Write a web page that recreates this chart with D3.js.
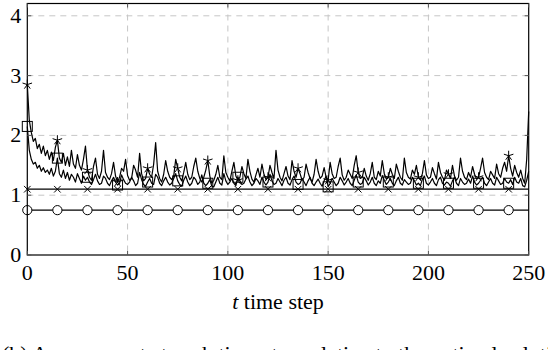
<!DOCTYPE html>
<html>
<head>
<meta charset="utf-8">
<script src="https://cdn.jsdelivr.net/npm/d3@7"></script>
<style>
  body { margin: 0; background: #fff; }
  svg { display: block; }
</style>
</head>
<body>
<div id="vis"></div>
<script>
/* Datos */

const xTicks = [0, 50, 100, 150, 200, 250];
const yTicks = [0, 1, 2, 3, 4];
const markEvery = 15;

// serie constante con círculos
const circleLevel = 0.75;
// serie constante con cruces
const crossLevel = 1.1;

// serie ruidosa con estrellas (t = 0..250)
const starValues = [
  2.85, 2.25, 2.05, 1.9, 1.95, 1.78, 1.85, 1.7, 1.82, 1.66,
  1.75, 1.6, 1.72, 1.58, 1.8, 1.92, 1.62, 1.55, 1.7, 1.5,
  1.64, 1.48, 1.75, 1.52, 1.45, 1.68, 1.5, 1.42, 1.6, 1.82,
  1.42, 1.3, 1.25, 1.48, 1.62, 1.35, 1.28, 1.4, 1.75, 1.38,
  1.3, 1.26, 1.36, 1.55, 1.32, 1.22, 1.3, 1.45, 1.4, 1.6,
  1.33, 1.25, 1.28, 1.5, 1.42, 1.3, 1.7, 1.36, 1.24, 1.28,
  1.45, 1.35, 1.3, 1.52, 1.88, 1.4, 1.28, 1.22, 1.35, 1.58,
  1.4, 1.3, 1.26, 1.32, 1.6, 1.45, 1.3, 1.24, 1.38, 1.55,
  1.35, 1.26, 1.3, 1.48, 1.62, 1.4, 1.28, 1.22, 1.3, 1.42,
  1.58, 1.32, 1.2, 1.25, 1.35, 1.5, 1.3, 1.26, 1.66, 1.38,
  1.3, 1.24, 1.4, 1.55, 1.32, 1.25, 1.3, 1.48, 1.36, 1.28,
  1.6, 1.4, 1.27, 1.22, 1.34, 1.45, 1.3, 1.52, 1.35, 1.26,
  1.3, 1.5, 1.38, 1.28, 1.75, 1.42, 1.3, 1.24, 1.36, 1.48,
  1.32, 1.26, 1.58, 1.4, 1.3, 1.45, 1.36, 1.25, 1.3, 1.52,
  1.38, 1.28, 1.22, 1.35, 1.6, 1.4, 1.28, 1.32, 1.46, 1.3,
  1.25, 1.55, 1.36, 1.28, 1.3, 1.48, 1.62, 1.34, 1.25, 1.3,
  1.42, 1.35, 1.28, 1.5, 1.66, 1.38, 1.28, 1.3, 1.45, 1.32,
  1.25, 1.36, 1.55, 1.3, 1.26, 1.4, 1.32, 1.58, 1.36, 1.27,
  1.3, 1.45, 1.35, 1.28, 1.52, 1.4, 1.3, 1.25, 1.62, 1.38,
  1.3, 1.27, 1.42, 1.35, 1.5, 1.3, 1.26, 1.36, 1.58, 1.34,
  1.28, 1.3, 1.46, 1.36, 1.27, 1.55, 1.38, 1.3, 1.25, 1.42,
  1.35, 1.28, 1.5, 1.32, 1.25, 1.3, 1.62, 1.4, 1.3, 1.26,
  1.38, 1.3, 1.48, 1.35, 1.27, 1.3, 1.45, 1.62, 1.38, 1.3,
  1.26, 1.4, 1.34, 1.28, 1.52, 1.36, 1.3, 1.45, 1.55, 1.4,
  1.66, 1.45, 1.32, 1.5, 1.38, 1.3, 1.42, 1.28, 1.2, 1.6,
  2.4
];

// serie ruidosa con cuadrados (t = 0..250)
const squareValues = [
  2.15, 1.75, 1.6, 1.52, 1.55, 1.45, 1.5, 1.4, 1.46, 1.38,
  1.42, 1.35, 1.45, 1.32, 1.4, 1.62, 1.36, 1.3, 1.42, 1.28,
  1.38, 1.25, 1.35, 1.3, 1.22, 1.36, 1.28, 1.2, 1.32, 1.25,
  1.3, 1.22, 1.18, 1.26, 1.35, 1.24, 1.18, 1.2, 1.32, 1.28,
  1.2, 1.16, 1.24, 1.3, 1.22, 1.17, 1.2, 1.34, 1.26, 1.2,
  1.18, 1.22, 1.3, 1.24, 1.16, 1.2, 1.38, 1.26, 1.18, 1.15,
  1.22, 1.28, 1.2, 1.18, 1.35, 1.3, 1.2, 1.16, 1.24, 1.3,
  1.22, 1.17, 1.2, 1.28, 1.36, 1.24, 1.18, 1.15, 1.25, 1.32,
  1.22, 1.16, 1.2, 1.3, 1.26, 1.18, 1.22, 1.34, 1.2, 1.16,
  1.2, 1.26, 1.15, 1.14, 1.22, 1.3, 1.2, 1.17, 1.36, 1.24,
  1.18, 1.22, 1.28, 1.2, 1.16, 1.3, 1.24, 1.18, 1.2, 1.27,
  1.32, 1.22, 1.16, 1.2, 1.28, 1.24, 1.18, 1.3, 1.22, 1.17,
  1.22, 1.35, 1.24, 1.18, 1.2, 1.28, 1.22, 1.16, 1.25, 1.3,
  1.2, 1.17, 1.26, 1.32, 1.22, 1.18, 1.2, 1.28, 1.22, 1.16,
  1.24, 1.3, 1.2, 1.16, 1.22, 1.27, 1.2, 1.15, 1.24, 1.32,
  1.14, 1.2, 1.28, 1.22, 1.16, 1.2, 1.3, 1.24, 1.17, 1.22,
  1.28, 1.2, 1.16, 1.25, 1.34, 1.22, 1.18, 1.2, 1.3, 1.24,
  1.17, 1.22, 1.3, 1.2, 1.16, 1.24, 1.2, 1.33, 1.25, 1.18,
  1.22, 1.28, 1.2, 1.16, 1.24, 1.3, 1.2, 1.17, 1.26, 1.22,
  1.18, 1.2, 1.3, 1.24, 1.17, 1.2, 1.16, 1.27, 1.32, 1.2,
  1.17, 1.22, 1.28, 1.2, 1.16, 1.26, 1.3, 1.2, 1.17, 1.22,
  1.2, 1.15, 1.24, 1.3, 1.2, 1.16, 1.28, 1.22, 1.18, 1.2,
  1.27, 1.2, 1.32, 1.22, 1.17, 1.2, 1.25, 1.3, 1.2, 1.16,
  1.22, 1.28, 1.2, 1.17, 1.3, 1.24, 1.18, 1.2, 1.28, 1.22,
  1.2, 1.26, 1.18, 1.3, 1.22, 1.2, 1.28, 1.16, 1.14, 1.25,
  1.4
];

const xLabel = "time step";
const caption = "(b)  Average  cost  at  each  time  step  relative  to  the  optimal  solution  li";

/* Tamaños */

const WIDTH = 548;
const HEIGHT = 350;
const plot = { left: 27.3, right: 528.7, top: 3.5, bottom: 255 };
const FONT = "'Liberation Serif', 'DejaVu Serif', 'Times New Roman', serif";

const svg = d3.select("#vis")
  .append("svg")
  .attr("width", WIDTH)
  .attr("height", HEIGHT)
  .attr("font-family", FONT);

/* Escalas */

const x = d3.scaleLinear().domain([0, 250]).range([plot.left, plot.right]);
const y = d3.scaleLinear().domain([0, 4.2]).range([plot.bottom, plot.bottom - 4.2 * 59.8]);

/* Grilla */

const grid = svg.append("g").attr("class", "grid");
grid.selectAll("line.vx")
  .data(xTicks.filter(d => d > 0 && d < 250))
  .enter().append("line")
  .attr("x1", d => x(d)).attr("x2", d => x(d))
  .attr("y1", plot.top).attr("y2", plot.bottom)
  .attr("stroke", "#c6c6c6").attr("stroke-width", 1)
  .attr("stroke-dasharray", "6,5");
grid.selectAll("line.hy")
  .data(yTicks.filter(d => d > 0))
  .enter().append("line")
  .attr("x1", plot.left).attr("x2", plot.right)
  .attr("y1", d => y(d)).attr("y2", d => y(d))
  .attr("stroke", "#c6c6c6").attr("stroke-width", 1)
  .attr("stroke-dasharray", "6,5");

/* Series */

const tAll = d3.range(starValues.length);
const line = d3.line().x(d => x(d[0])).y(d => y(d[1]));
const lines = svg.append("g").attr("fill", "none").attr("stroke", "#000").attr("stroke-width", 1.2);

const circleSeries = tAll.map(t => [t, circleLevel]);
const crossSeries = tAll.map(t => [t, crossLevel]);
const starSeries = tAll.map(t => [t, starValues[t]]);
const squareSeries = tAll.map(t => [t, squareValues[t]]);

[circleSeries, crossSeries, squareSeries, starSeries].forEach(s => {
  lines.append("path").attr("d", line(s)).attr("stroke-linejoin", "round");
});

const markT = d3.range(0, 251, markEvery);
const marks = svg.append("g").attr("stroke", "#000").attr("stroke-width", 1);

// círculos
marks.selectAll("circle")
  .data(markT)
  .enter().append("circle")
  .attr("cx", t => x(t)).attr("cy", y(circleLevel))
  .attr("r", 4.6)
  .attr("fill", "#fff");

// cruces
marks.selectAll("path.cross")
  .data(markT)
  .enter().append("path")
  .attr("class", "cross")
  .attr("transform", t => `translate(${x(t)},${y(crossLevel)})`)
  .attr("d", "M-3.3,-3.3L3.3,3.3M-3.3,3.3L3.3,-3.3")
  .attr("fill", "none");

// cuadrados
marks.selectAll("rect")
  .data(markT)
  .enter().append("rect")
  .attr("x", t => x(t) - 5).attr("y", t => y(squareValues[t]) - 5)
  .attr("width", 10).attr("height", 10)
  .attr("fill", "none");

// estrellas (asterisco de 5 puntas)
const starPath = d3.range(5).map(k => {
  const a = -Math.PI / 2 + k * 2 * Math.PI / 5;
  return `M0,0L${(5 * Math.cos(a)).toFixed(2)},${(5 * Math.sin(a)).toFixed(2)}`;
}).join("");
marks.selectAll("path.star")
  .data(markT)
  .enter().append("path")
  .attr("class", "star")
  .attr("transform", t => `translate(${x(t)},${y(starValues[t])})`)
  .attr("d", starPath)
  .attr("fill", "none");

/* Ejes */

const axes = svg.append("g");
axes.append("rect")
  .attr("x", plot.left).attr("y", plot.top)
  .attr("width", plot.right - plot.left).attr("height", plot.bottom - plot.top)
  .attr("fill", "none").attr("stroke", "#000").attr("stroke-width", 1.2);

// marcas de los ejes (hacia adentro, arriba y abajo / izquierda y derecha)
axes.selectAll("line.tx")
  .data(xTicks)
  .enter().append("g")
  .each(function (d) {
    const g = d3.select(this);
    g.append("line").attr("x1", x(d)).attr("x2", x(d)).attr("y1", plot.bottom).attr("y2", plot.bottom - 4).attr("stroke", "#555");
    g.append("line").attr("x1", x(d)).attr("x2", x(d)).attr("y1", plot.top).attr("y2", plot.top + 4).attr("stroke", "#555");
  });
axes.selectAll("line.ty")
  .data(yTicks)
  .enter().append("g")
  .each(function (d) {
    const g = d3.select(this);
    g.append("line").attr("x1", plot.left).attr("x2", plot.left + 4).attr("y1", y(d)).attr("y2", y(d)).attr("stroke", "#555");
    g.append("line").attr("x1", plot.right).attr("x2", plot.right - 4).attr("y1", y(d)).attr("y2", y(d)).attr("stroke", "#555");
  });

axes.selectAll("text.xt")
  .data(xTicks)
  .enter().append("text")
  .attr("x", d => x(d)).attr("y", 280)
  .attr("text-anchor", "middle")
  .attr("font-size", 22)
  .text(d => d);

axes.selectAll("text.yt")
  .data(yTicks)
  .enter().append("text")
  .attr("x", plot.left - 6).attr("y", d => y(d) + 7)
  .attr("text-anchor", "end")
  .attr("font-size", 22)
  .text(d => d);

const lab = axes.append("text")
  .attr("x", (plot.left + plot.right) / 2).attr("y", 309)
  .attr("text-anchor", "middle")
  .attr("font-size", 22);
lab.append("tspan").attr("font-style", "italic").text("t");
lab.append("tspan").text(" " + xLabel);

svg.append("text")
  .attr("x", 2).attr("y", 361)
  .attr("font-size", 22)
  .text(caption);
</script>
</body>
</html>
